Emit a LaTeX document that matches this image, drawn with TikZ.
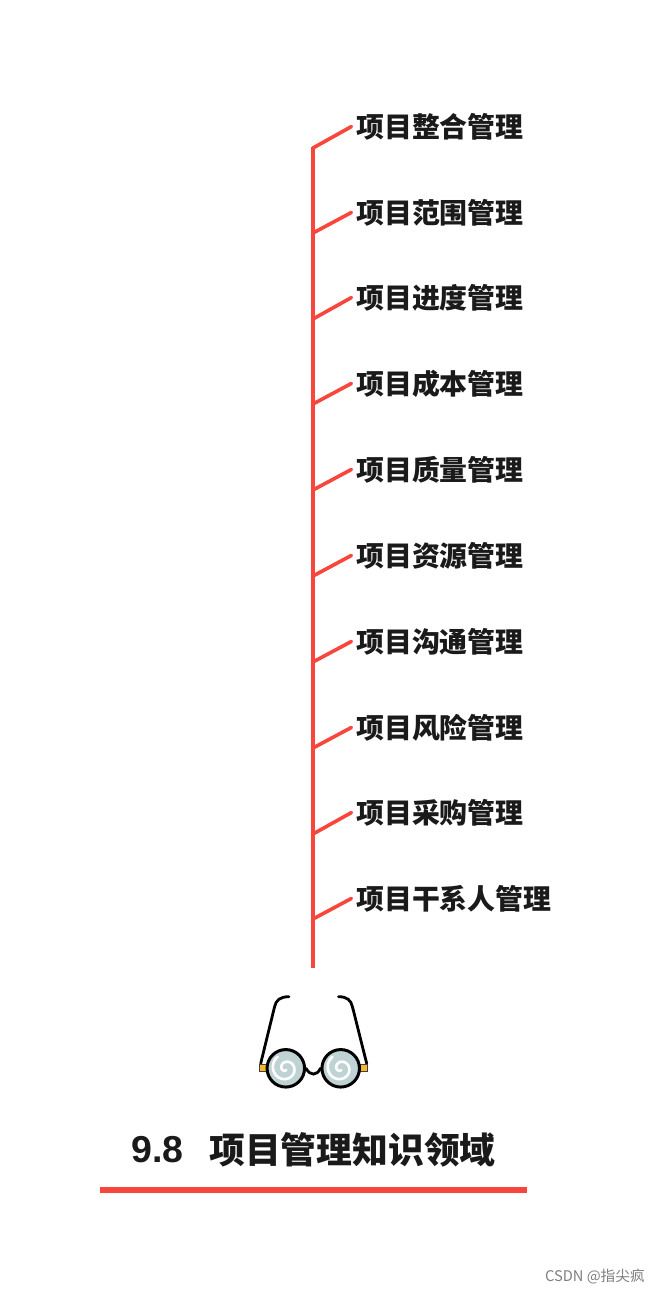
\documentclass[tikz,border=0pt]{standalone}
\usepackage{fontspec}
\newfontfamily\cjk{Noto Sans CJK SC}
\newfontfamily\latinbold{Liberation Sans}
\definecolor{branchred}{HTML}{F9463C}
\definecolor{inkdark}{HTML}{1A1A1A}
\definecolor{lensfill}{HTML}{BFD3D5}
\definecolor{hingeyellow}{HTML}{F5B82E}
\tikzset{
  x=1pt,y=-1pt,
  trunkline/.style={draw=branchred,line width=3.8pt},
  branchline/.style={draw=branchred,line width=3.6pt,line cap=round,shorten >=5.2pt},
  itemlabel/.style={anchor=west,inner sep=0pt,text=inkdark,font=\cjk\bfseries\fontsize{27.9}{30}\selectfont},
  framestroke/.style={draw=black,line width=2.8pt,line cap=round},
  lens/.style={circle,draw=black,line width=3pt,fill=lensfill,minimum size=37.5pt,inner sep=0pt},
  hinge/.style={draw=black!75,line width=1.2pt,fill=hingeyellow,minimum size=7pt,inner sep=0pt},
  swirl/.style={draw=white,line width=2.6pt,line cap=round}
}
\begin{document}
\begin{tikzpicture}
\useasboundingbox (0,0) rectangle (660,1294);
\fill[white] (0,0) rectangle (660,1294);
\coordinate (top) at (313,147);
\coordinate (bottom) at (313,968);
\draw[trunkline] (top) -- (bottom);
\foreach \n/\jy/\ty/\t in {
 1/148/127/项目整合管理,
 2/233/213/项目范围管理,
 3/319/298/项目进度管理,
 4/404/384/项目成本管理,
 5/490/470/项目质量管理,
 6/576/556/项目资源管理,
 7/662/642/项目沟通管理,
 8/748/728/项目风险管理,
 9/834/813/项目采购管理,
 10/919/899/项目干系人管理}{
  \node[itemlabel] (t\n) at (356,\ty) {\t};
  \coordinate (j\n) at (313,\jy);
  \draw[branchline] (j\n) -- ([yshift=3pt]t\n.west);
}
% glasses
\draw[framestroke] (260.7,1063.5) -- (274.5,1007) .. controls (276,1000) and (280,996.7) .. (289,996.7);
\draw[framestroke] (366.7,1063.5) -- (352.5,1007) .. controls (351,1000) and (347,996.7) .. (338.5,996.7);
\node[hinge] (hl) at (263.3,1067.7) {};
\node[hinge] (hr) at (364,1067.7) {};
\node[lens] (ll) at (285.8,1068.3) {};
\node[lens] (lr) at (340.7,1068.3) {};
\draw[framestroke] (ll.east) .. controls (310,1076) and (317,1076) .. (lr.west);
\foreach \c in {ll,lr}{
  \draw[swirl,shift={(\c.center)}] plot[domain=0:520,samples=50,smooth] ({(1.8+\x/42)*cos(\x+75)},{(1.8+\x/42)*sin(\x+75)});
}
% title
\node[anchor=west,inner sep=0pt,text=inkdark,font=\latinbold\bfseries\fontsize{37.5}{40}\selectfont] (num) at (131,1150) {9.8};
\node[anchor=west,inner sep=0pt,text=inkdark,font=\cjk\bfseries\fontsize{35.8}{40}\selectfont] (title) at (209,1150) {项目管理知识领域};
\fill[branchred] (100,1187) rectangle (527,1193);
\node[anchor=east,inner sep=0pt,text=black!50,font=\cjk\fontsize{14.7}{16}\selectfont] (wm) at (645,1277) {CSDN @指尖疯};
\end{tikzpicture}
\end{document}
